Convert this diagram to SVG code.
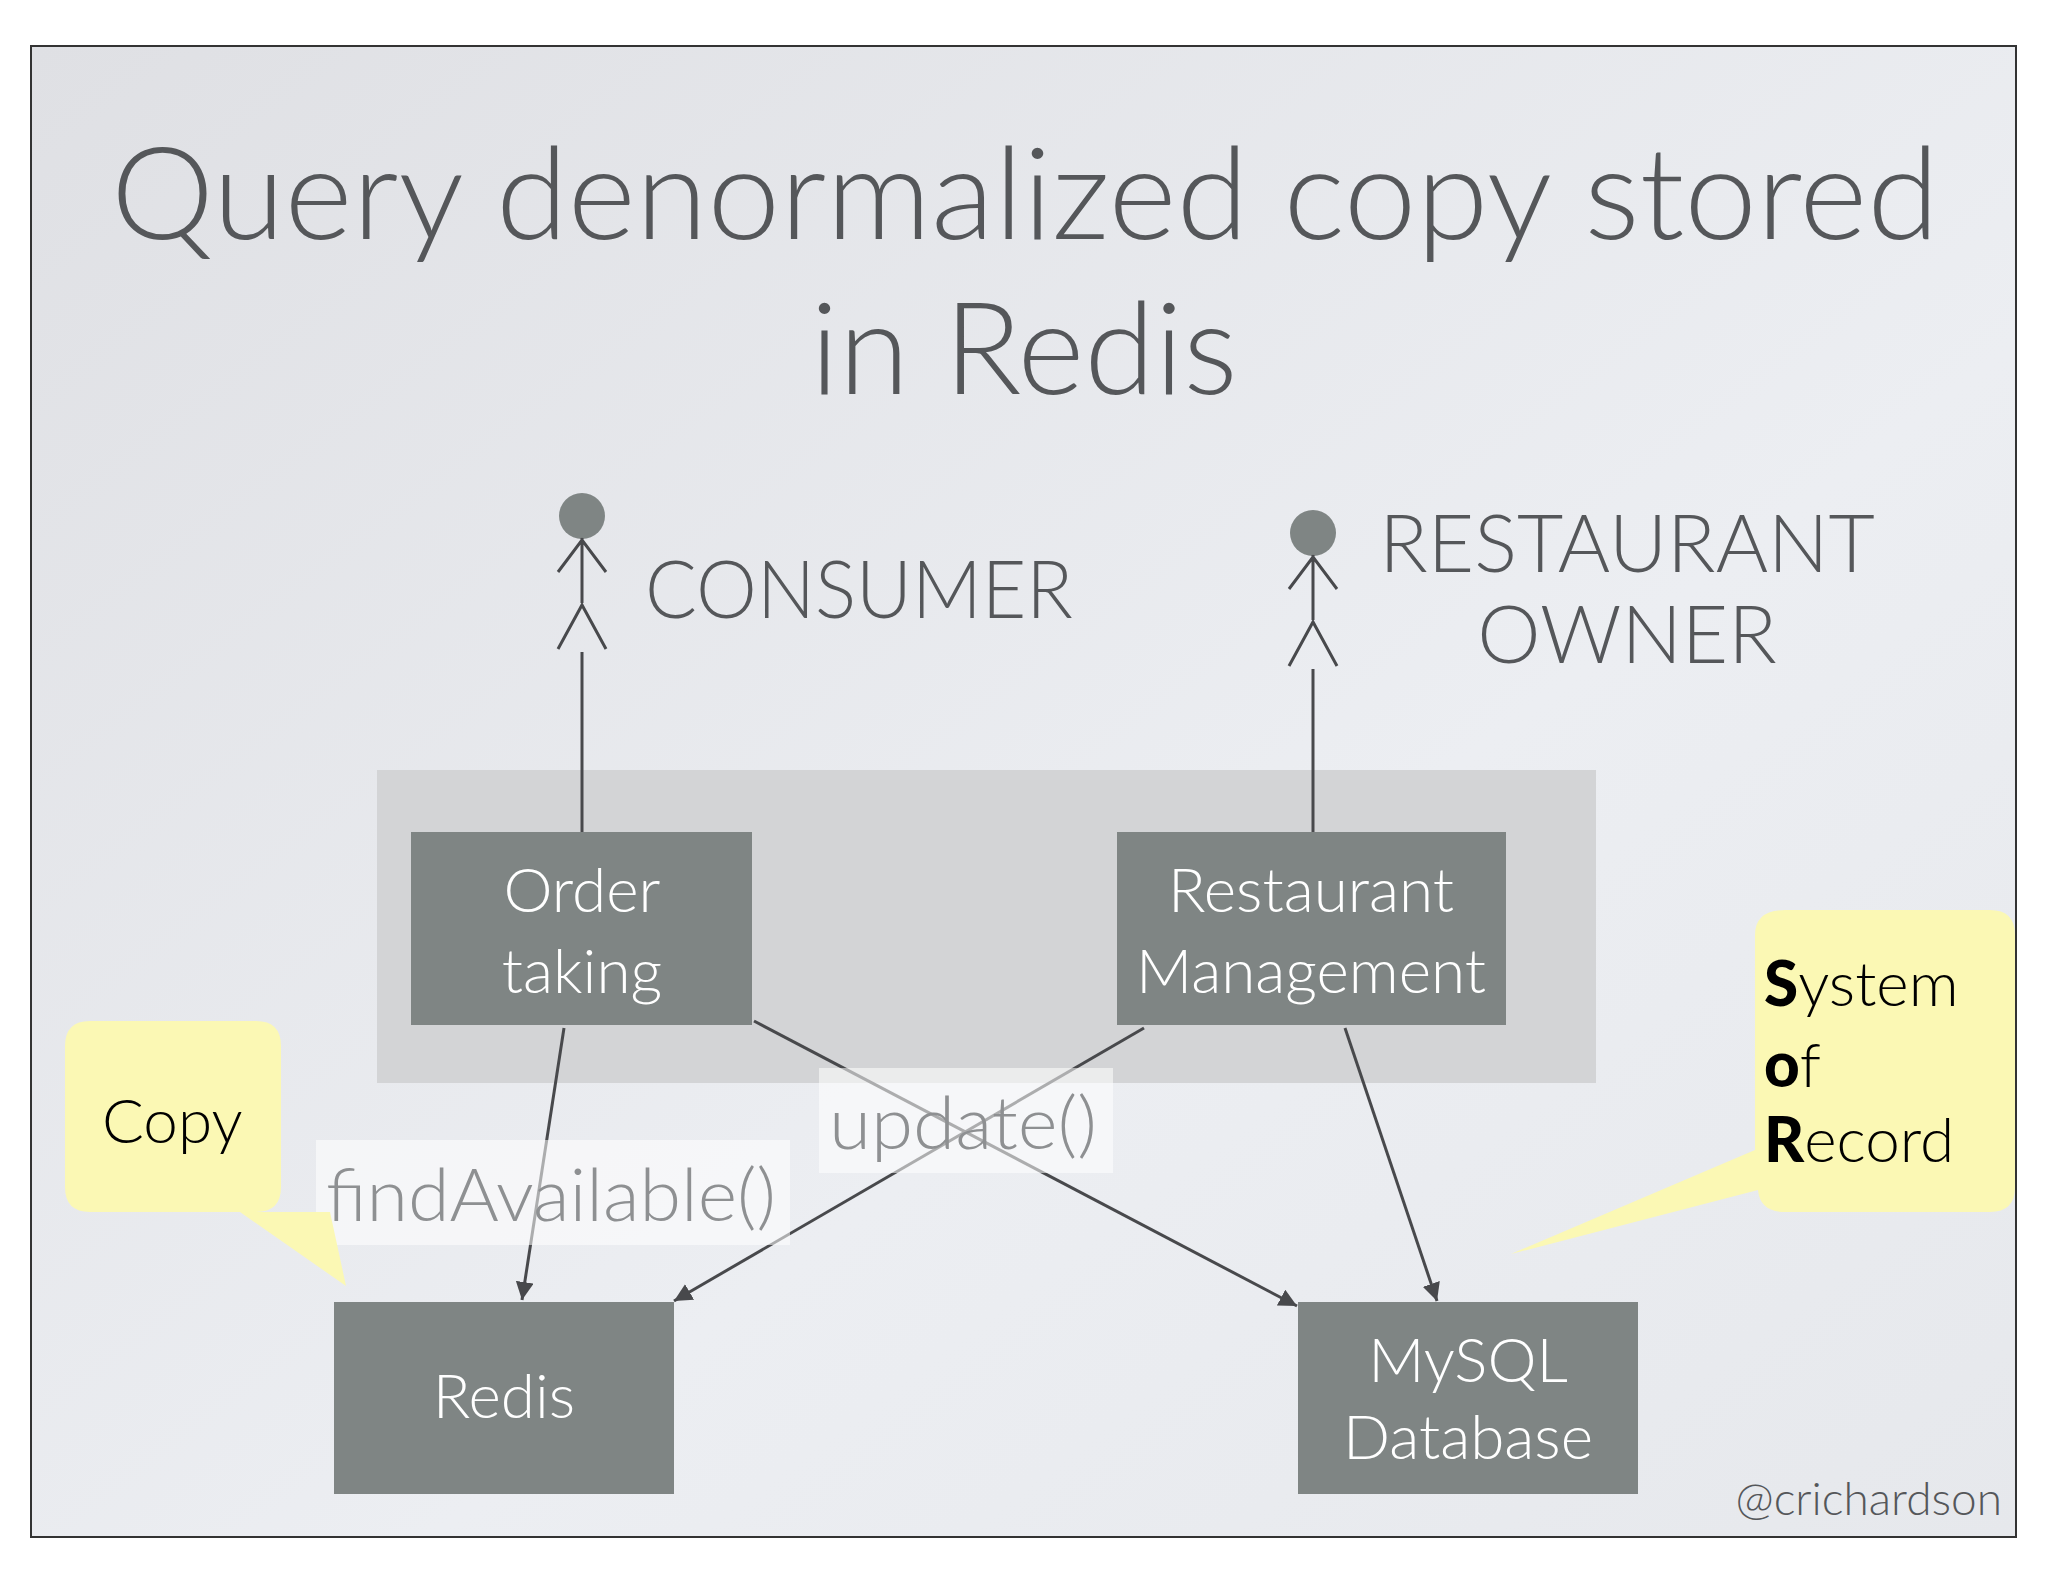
<svg xmlns="http://www.w3.org/2000/svg" width="2048" height="1582" viewBox="0 0 2048 1582">
<defs>
<linearGradient id="bg" x1="0" y1="0" x2="1" y2="1"><stop offset="0" stop-color="#dfe0e4"/><stop offset="0.6" stop-color="#eceef2"/><stop offset="1" stop-color="#e6e8ec"/></linearGradient>
<marker id="ah" viewBox="0 0 10 10" refX="10" refY="5" markerWidth="6" markerHeight="6" orient="auto" markerUnits="strokeWidth"><path d="M0,0 L10,5 L0,10 z" fill="#48494c"/></marker>
<style>
text{font-family:"Lato","Open Sans","Liberation Sans",sans-serif;font-weight:300}
.t{fill:#55575a;font-size:128px}
.a{fill:#55575a;font-size:80px}
.box{fill:#7f8584}
.bt{fill:#ffffff;font-size:62px;text-anchor:middle}
.ln{stroke:#48494c;stroke-width:3;fill:none}
.lab{fill:#ffffff;fill-opacity:0.55}
.lt{fill:#8e9092;font-size:72px}
.call{fill:#fbf8b4}
.ct{fill:#000;font-size:62px;font-weight:400}
.head{fill:#7f8584}
</style>
</defs>
<rect width="2048" height="1582" fill="#fff"/>
<rect x="31" y="46" width="1985" height="1491" fill="url(#bg)" stroke="#333" stroke-width="2"/>
<text class="t" x="111" y="239" textLength="1828" lengthAdjust="spacingAndGlyphs">Query denormalized copy stored</text>
<text class="t" x="1024" y="394" text-anchor="middle">in Redis</text>
<rect id="group" x="377" y="770" width="1219" height="313" fill="#d3d4d6"/>
<g id="consumer">
<circle class="head" cx="582" cy="516" r="23"/>
<path class="ln" d="M582,538 V603 M558,572 L582,540 L606,572 M558,649 L582,605 L606,649"/>
<text class="a" x="645" y="618" textLength="428" lengthAdjust="spacingAndGlyphs">CONSUMER</text>
</g>
<g id="owner">
<circle class="head" cx="1313" cy="533" r="23"/>
<path class="ln" d="M1313,555 V620 M1289,589 L1313,557 L1337,589 M1289,666 L1313,622 L1337,666"/>
<text class="a" x="1627" y="572" text-anchor="middle">RESTAURANT</text>
<text class="a" x="1627" y="663" text-anchor="middle">OWNER</text>
</g>
<g id="connectors">
<path class="ln" d="M582,652 V832"/>
<path class="ln" d="M1313,669 V832"/>
<path class="ln" d="M564,1028 L522,1300" marker-end="url(#ah)"/>
<path class="ln" d="M754,1021 L1297,1306" marker-end="url(#ah)"/>
<path class="ln" d="M1144,1028 L674,1301" marker-end="url(#ah)"/>
<path class="ln" d="M1345,1028 L1437,1301" marker-end="url(#ah)"/>
<rect class="lab" x="316" y="1140" width="474" height="105"/>
<text class="lt" x="326" y="1221" textLength="450" lengthAdjust="spacingAndGlyphs">findAvailable()</text>
<rect class="lab" x="819" y="1068" width="294" height="105"/>
<text class="lt" x="829" y="1149" textLength="268" lengthAdjust="spacingAndGlyphs">update()</text>
</g>
<g id="order"><rect class="box" x="411" y="832" width="341" height="193"/><text class="bt" x="582" y="912">Order</text><text class="bt" x="582" y="993">taking</text></g>
<g id="restaurant"><rect class="box" x="1117" y="832" width="389" height="193"/><text class="bt" x="1311" y="912">Restaurant</text><text class="bt" x="1311" y="993">Management</text></g>
<g id="redis"><rect class="box" x="334" y="1302" width="340" height="192"/><text class="bt" x="504" y="1418">Redis</text></g>
<g id="mysql"><rect class="box" x="1298" y="1302" width="340" height="192"/><text class="bt" x="1468" y="1382">MySQL</text><text class="bt" x="1468" y="1459">Database</text></g>
<g id="copy">
<path class="call" d="M90,1021 H256 Q281,1021 281,1046 V1187 Q281,1212 256,1212 H330 L346,1286 L240,1212 H90 Q65,1212 65,1187 V1046 Q65,1021 90,1021 z"/>
<text class="ct" x="102" y="1143" style="font-weight:300">Copy</text>
</g>
<g id="sor">
<path class="call" d="M1785,910 H1990 Q2015,910 2015,935 V1187 Q2015,1212 1990,1212 H1785 Q1760,1212 1758,1190 L1511,1254 L1755,1150 V935 Q1755,910 1785,910 z"/>
<text class="ct" x="1764" y="1006"><tspan font-weight="900">S</tspan><tspan font-weight="300">ystem</tspan></text>
<text class="ct" x="1764" y="1087"><tspan font-weight="900">o</tspan><tspan font-weight="300">f</tspan></text>
<text class="ct" x="1764" y="1162"><tspan font-weight="900">R</tspan><tspan font-weight="300">ecord</tspan></text>
</g>
<text x="2002" y="1515" text-anchor="end" fill="#55575a" font-size="46">@crichardson</text>
</svg>
